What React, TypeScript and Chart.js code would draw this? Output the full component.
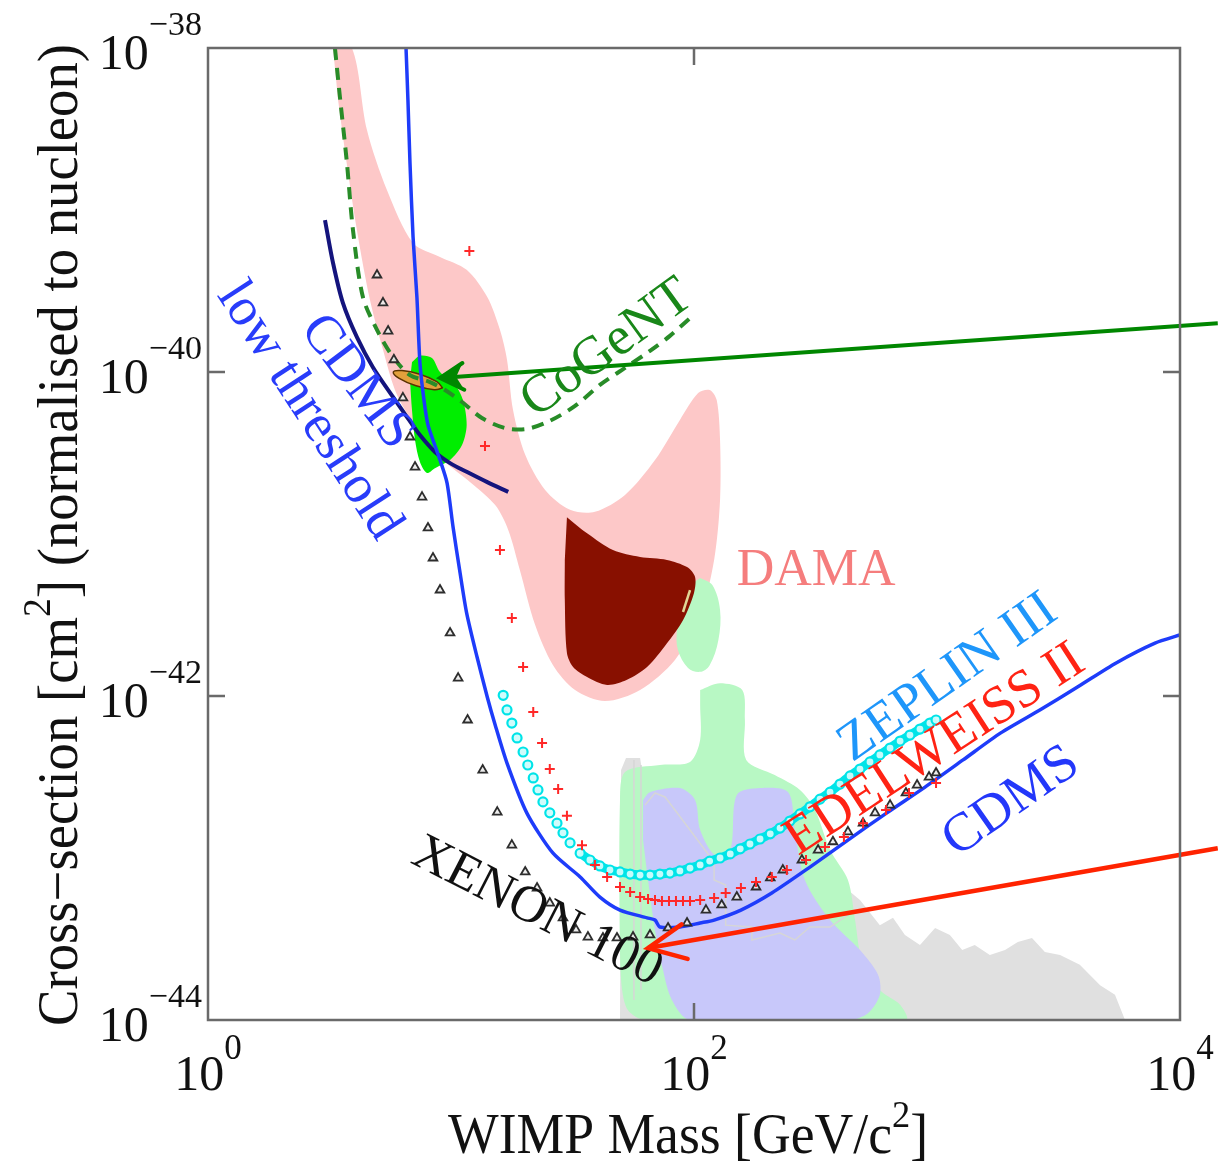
import React, { useEffect, useRef } from 'react';
import { Chart, registerables } from 'chart.js';

Chart.register(...registerables);

// ---------------- data (mass in GeV/c^2, cross-section in cm^2) ----------------
const xTickValues = [1, 100, 10000];
const xTickExponents = ['0', '2', '4'];
const yTickValues = [1e-38, 1e-40, 1e-42, 1e-44];
const yTickExponents = ['\u221238', '\u221240', '\u221242', '\u221244'];

// grey (background) region
const grayMass = [49.6, 50.1, 52.5, 60.0, 62.9, 106, 273, 482, 582, 659, 738, 851, 982, 1130, 1270, 1430, 1650, 1905, 2150, 2460, 2780, 3210, 3870, 4690, 5400, 5940];
const graySigma = [1e-44, 3.49e-43, 4.14e-43, 4.14e-43, 2.63e-43, 2.28e-43, 1.12e-43, 5.51e-44, 3.85e-44, 4.27e-44, 3.35e-44, 2.90e-44, 3.70e-44, 3.35e-44, 2.70e-44, 2.90e-44, 2.52e-44, 2.70e-44, 3.03e-44, 3.21e-44, 2.63e-44, 2.52e-44, 2.19e-44, 1.64e-44, 1.43e-44, 1e-44];

// light green regions
const greenUpperMass = [106, 119, 128, 126, 116, 106, 94.5, 85.9, 85.1, 89.3, 96.3];
const greenUpperSigma = [5.35e-42, 4.84e-42, 3.40e-42, 2.22e-42, 1.55e-42, 1.41e-42, 1.49e-42, 1.92e-42, 2.55e-42, 3.65e-42, 4.84e-42];
const greenLowerMass = [106, 128, 158, 162, 164, 215, 273, 315, 363, 430, 460, 491, 582, 705, 745, 62.9, 53.5, 50.6, 49.6, 49.6, 52.0, 72.4, 96.3, 106, 106];
const greenLowerSigma = [1.09e-42, 1.20e-42, 1.09e-42, 7.11e-43, 4.03e-43, 3.25e-43, 2.63e-43, 1.98e-43, 1.12e-43, 7.31e-44, 4.14e-44, 2.34e-44, 1.53e-44, 1.24e-44, 1e-44, 1e-44, 1.15e-44, 1.53e-44, 2.70e-44, 2.28e-43, 3.40e-43, 3.75e-43, 3.92e-43, 5.35e-43, 8.79e-43];

// lavender region
const lavenderMass = [61.7, 65.9, 87.5, 101, 106, 122, 141, 150, 187, 244, 260, 286, 363, 482, 572, 582, 520, 439, 96.3, 81.1, 74.5, 69.1, 64.7, 61.7];
const lavenderSigma = [2.28e-43, 2.55e-43, 2.70e-43, 2.28e-43, 1.49e-43, 1.04e-43, 1.12e-43, 2.45e-43, 2.70e-43, 2.55e-43, 1.49e-43, 7.31e-44, 4.14e-44, 2.70e-44, 1.90e-44, 1.43e-44, 1.10e-44, 1e-44, 1e-44, 1.33e-44, 2.04e-44, 3.60e-44, 7.31e-44, 1.29e-43];

// faint grey contour inside
const contourMass = [62.9, 69.1, 76.0, 83.5, 96.3, 111, 121, 121, 135, 135, 173, 173, 226, 260, 300, 363, 430];
const contourSigma = [2.12e-43, 2.52e-43, 2.38e-43, 1.98e-43, 1.49e-43, 1.12e-43, 9.44e-44, 7.31e-44, 6.81e-44, 3.85e-44, 3.75e-44, 3.12e-44, 3.44e-44, 3.12e-44, 3.75e-44, 3.75e-44, 4.45e-44];
const contourAMass = [56.6, 56.6];
const contourASigma = [4.03e-43, 1.33e-44];
const contourBMass = [60.5, 60.5];
const contourBSigma = [3.75e-43, 1.53e-44];

// DAMA regions
const damaMass = [3.27, 3.91, 4.51, 5.45, 6.98, 9.01, 11.6, 14.1, 15.9, 17.0, 18.0, 20.2, 24.4, 30.9, 39.1, 52.0, 69.1, 87.5, 104, 116, 124, 128, 128, 121, 106, 83.5, 60.0, 43.0, 32.4, 26.3, 22.2, 19.2, 17.2, 15.2, 12.0, 9.45, 7.82, 6.65, 5.88, 5.25, 4.64, 4.10, 3.73, 3.43];
const damaSigma = [1e-38, 1e-38, 3.12e-39, 1.33e-39, 6.25e-40, 5.13e-40, 4.27e-40, 2.90e-40, 1.82e-40, 1.19e-40, 5.82e-41, 3.08e-41, 1.87e-41, 1.41e-41, 1.37e-41, 1.74e-41, 2.86e-41, 5.06e-41, 7.41e-41, 7.74e-41, 6.71e-41, 3.80e-41, 1.62e-41, 6.92e-42, 3.16e-42, 1.67e-42, 1.09e-42, 9.31e-43, 1.09e-42, 1.55e-42, 2.74e-42, 6.00e-42, 1.06e-41, 1.51e-41, 2.09e-41, 2.78e-41, 3.80e-41, 5.43e-41, 7.74e-41, 1.37e-40, 2.78e-40, 7.53e-40, 1.90e-39, 4.77e-39];
const damaDarkMass = [30.0, 36.3, 46.4, 60.0, 77.4, 93.6, 101, 100, 90.1, 77.4, 64.1, 53.0, 43.9, 36.3, 31.8, 30.0, 29.4, 29.4];
const damaDarkSigma = [1.27e-41, 1.01e-41, 7.96e-42, 7.21e-42, 6.92e-42, 6.25e-42, 5.43e-42, 4.33e-42, 2.94e-42, 2.12e-42, 1.51e-42, 1.26e-42, 1.17e-42, 1.31e-42, 1.51e-42, 1.84e-42, 3.92e-42, 6.92e-42];
const damaSpotMass = [90.1, 96.3];
const damaSpotSigma = [3.30e-42, 4.51e-42];

// bright green region and orange ellipse
const brightMass = [6.91, 7.45, 8.35, 9.01, 10.4, 11.2, 11.6, 11.1, 9.91, 8.59, 7.96, 7.45, 7.11, 6.91, 6.78];
const brightSigma = [1.15e-40, 1.26e-40, 1.22e-40, 1.00e-40, 8.32e-41, 6.71e-41, 4.71e-41, 3.54e-41, 2.86e-41, 2.55e-41, 2.38e-41, 2.78e-41, 3.80e-41, 5.82e-41, 8.93e-41];
const ellipseMass = [9.25, 8.53, 7.18, 6.12, 5.79, 6.28, 7.45, 8.74, 9.25];
const ellipseSigma = [7.96e-41, 7.78e-41, 8.22e-41, 9.14e-41, 1.00e-40, 1.02e-40, 9.68e-41, 8.71e-41, 7.96e-41];

// CoGeNT (dashed)
const cogentMass = [3.33, 3.49, 3.73, 3.95, 4.34, 4.96, 5.77, 6.78, 8.20, 9.45, 11.1, 13.4, 16.7, 20.5, 25.5, 32.4, 41.0, 52.0, 65.9, 79.6, 96.3];
const cogentSigma = [1e-38, 4.99e-39, 1.95e-39, 7.53e-40, 2.90e-40, 1.82e-40, 1.24e-40, 9.57e-41, 8.67e-41, 7.74e-41, 6.53e-41, 5.20e-41, 4.51e-41, 4.45e-41, 4.99e-41, 6.17e-41, 8.32e-41, 1.06e-40, 1.35e-40, 1.67e-40, 2.15e-40];

// CDMS low threshold
const cdmsLowMass = [3.03, 3.27, 3.59, 4.10, 4.77, 5.77, 6.59, 7.45, 8.59, 9.91, 11.6, 14.1, 17.2];
const cdmsLowSigma = [8.67e-40, 4.71e-40, 2.67e-40, 1.64e-40, 1.07e-40, 7.01e-41, 5.27e-41, 4.08e-41, 3.21e-41, 2.74e-41, 2.42e-41, 2.09e-41, 1.82e-41];

// CDMS
const cdmsMass = [6.53, 6.65, 6.78, 6.98, 7.24, 7.45, 7.74, 8.04, 8.43, 9.01, 9.63, 10.2, 10.9, 11.6, 12.8, 14.1, 15.2, 17.0, 20.5, 26.3, 34.0, 41.0, 49.6, 64.1, 69.1, 72.4, 87.5, 106, 121, 156, 209, 300, 430, 622, 893, 1280, 1830, 2650, 3800, 5460, 7890, 10000];
const cdmsSigma = [1e-38, 4.77e-39, 1.95e-39, 6.81e-40, 2.90e-40, 1.14e-40, 6.71e-41, 4.71e-41, 3.80e-41, 2.86e-41, 2.07e-41, 1.10e-41, 5.74e-42, 3.25e-42, 1.74e-42, 9.86e-43, 6.62e-43, 3.85e-43, 1.90e-43, 1.07e-43, 7.64e-44, 5.74e-44, 4.77e-44, 4.27e-44, 4.14e-44, 3.75e-44, 3.75e-44, 3.97e-44, 4.14e-44, 4.77e-44, 6.08e-44, 8.79e-44, 1.29e-43, 1.90e-43, 2.74e-43, 4.03e-43, 5.92e-43, 8.20e-43, 1.14e-42, 1.60e-42, 2.12e-42, 2.38e-42];

// XENON100 (triangles)
const xenonMass = [4.96, 5.25, 5.51, 5.82, 6.34, 6.78, 7.11, 7.60, 8.04, 8.43, 9.01, 9.91, 10.7, 11.7, 13.5, 15.5, 17.8, 20.2, 22.6, 25.5, 28.9, 32.7, 36.6, 42.2, 48.2, 56.1, 65.9, 78.2, 93.6, 112, 130, 150, 180, 206, 232, 278, 324, 373, 430, 496, 556, 641, 745, 828, 927, 991];
const xenonSigma = [3.97e-40, 2.67e-40, 1.79e-40, 1.19e-40, 6.92e-41, 3.97e-41, 2.59e-41, 1.69e-41, 1.09e-41, 7.11e-42, 4.51e-42, 2.45e-42, 1.29e-42, 7.11e-43, 3.49e-43, 1.92e-43, 1.20e-43, 8.20e-44, 6.53e-44, 5.27e-44, 4.27e-44, 3.60e-44, 3.25e-44, 3.21e-44, 3.21e-44, 3.25e-44, 3.35e-44, 3.70e-44, 3.97e-44, 4.77e-44, 5.13e-44, 5.74e-44, 6.62e-44, 7.53e-44, 8.43e-44, 9.72e-44, 1.12e-43, 1.26e-43, 1.45e-43, 1.64e-43, 1.90e-43, 2.12e-43, 2.52e-43, 2.82e-43, 3.16e-43, 3.35e-43];

// ZEPLIN III (circles)
const zeplinMass = [16.4, 17.0, 17.8, 18.7, 19.8, 20.7, 21.8, 22.8, 23.9, 25.5, 27.3, 28.9, 30.9, 34.0, 37.3, 41.0, 45.1, 49.6, 54.6, 60.0, 65.9, 72.4, 79.6, 87.5, 96.3, 106, 116, 128, 141, 155, 170, 187, 206, 226, 248, 273, 300, 330, 363, 399, 439, 482, 530, 582, 641, 705, 774, 851, 935, 991];
const zeplinSigma = [1.01e-42, 8.20e-43, 6.81e-43, 5.51e-43, 4.51e-43, 3.75e-43, 3.12e-43, 2.63e-43, 2.22e-43, 1.90e-43, 1.64e-43, 1.43e-43, 1.24e-43, 1.07e-43, 9.72e-44, 8.93e-44, 8.43e-44, 8.20e-44, 7.96e-44, 7.85e-44, 7.85e-44, 7.96e-44, 8.07e-44, 8.32e-44, 8.67e-44, 9.06e-44, 9.57e-44, 1.00e-43, 1.06e-43, 1.14e-43, 1.22e-43, 1.31e-43, 1.41e-43, 1.53e-43, 1.69e-43, 1.87e-43, 2.07e-43, 2.31e-43, 2.55e-43, 2.86e-43, 3.21e-43, 3.54e-43, 3.92e-43, 4.33e-43, 4.77e-43, 5.27e-43, 5.74e-43, 6.25e-43, 6.81e-43, 7.11e-43];

// EDELWEISS II (crosses)
const edelMass = [11.9, 13.8, 15.9, 17.8, 19.8, 21.8, 23.7, 25.5, 27.6, 30.0, 34.6, 39.1, 43.9, 49.6, 54.6, 60.0, 64.7, 69.1, 73.8, 78.9, 84.3, 90.1, 96.3, 106, 121, 135, 156, 180, 209, 241, 289, 346, 414, 496, 617, 767, 991];
const edelSigma = [5.58e-40, 3.49e-41, 7.96e-42, 3.03e-42, 1.51e-42, 7.96e-43, 5.13e-43, 3.54e-43, 2.67e-43, 1.82e-43, 1.20e-43, 9.06e-44, 7.64e-44, 6.62e-44, 6.17e-44, 5.74e-44, 5.58e-44, 5.51e-44, 5.43e-44, 5.43e-44, 5.43e-44, 5.43e-44, 5.43e-44, 5.51e-44, 5.66e-44, 6.08e-44, 6.53e-44, 7.11e-44, 7.64e-44, 8.43e-44, 9.72e-44, 1.17e-43, 1.35e-43, 1.64e-43, 1.98e-43, 2.52e-43, 2.90e-43];

// arrows (tail first, tip last)
const greenArrowMass = [14300, 9.01];
const greenArrowSigma = [2.00e-40, 9.18e-41];
const redArrowMass = [14300, 64.7];
const redArrowSigma = [1.15e-43, 2.78e-44];

// ---------------- text annotations ----------------
const SERIF = "'Liberation Serif', 'Times New Roman', 'DejaVu Serif', serif";
const annotations = [
  { text: 'CDMS', mass: 4.10, sigma: 8.67e-41, angle: 53, size: 54, color: 'rgb(40,60,250)' },
  { text: 'low threshold', mass: 2.60, sigma: 5.74e-41, angle: 57, size: 54, color: 'rgb(40,60,250)' },
  { text: 'CoGeNT', mass: 43.9, sigma: 1.39e-40, angle: -36, size: 54, color: 'rgb(25,135,25)' },
  { text: 'DAMA', mass: 318, sigma: 5.92e-42, angle: 0, size: 52, color: 'rgb(245,125,125)' },
  { text: 'ZEPLIN III', mass: 1110, sigma: 1.29e-42, angle: -35, size: 54, color: 'rgb(30,150,250)' },
  { text: 'EDELWEISS II', mass: 982, sigma: 4.64e-43, angle: -33, size: 54, color: 'rgb(255,35,20)' },
  { text: 'CDMS', mass: 2020, sigma: 2.22e-43, angle: -35, size: 54, color: 'rgb(35,55,250)' },
  { text: 'XENON 100', mass: 22.6, sigma: 4.64e-44, angle: 27, size: 52, color: '#111111' },
];

const pts = (m: number[], s: number[]) => m.map((x, i) => ({ x, y: s[i] }));

type Part = { t: string; size: number; dy: number };

function partsWidth(ctx: any, parts: Part[]) {
  let w = 0;
  for (const p of parts) {
    ctx.font = `${p.size}px ${SERIF}`;
    w += ctx.measureText(p.t).width;
  }
  return w;
}

function drawParts(ctx: any, parts: Part[], x: number, y: number) {
  let cx = x;
  for (const p of parts) {
    ctx.font = `${p.size}px ${SERIF}`;
    ctx.fillText(p.t, cx, y + p.dy);
    cx += ctx.measureText(p.t).width;
  }
}

const overlayPlugin = {
  id: 'overlay',
  afterDatasetsDraw(chart: any) {
    const ctx = chart.ctx;
    const xs = chart.scales.x;
    const ys = chart.scales.y;
    const { left, right, top, bottom } = chart.chartArea;
    ctx.save();

    // text annotations
    for (const a of annotations) {
      const px = xs.getPixelForValue(a.mass);
      const py = ys.getPixelForValue(a.sigma);
      ctx.save();
      ctx.translate(px, py);
      ctx.rotate((a.angle * Math.PI) / 180);
      ctx.font = `${a.size}px ${SERIF}`;
      ctx.fillStyle = a.color;
      ctx.textAlign = 'center';
      ctx.textBaseline = 'middle';
      ctx.fillText(a.text, 0, 0);
      ctx.restore();
    }

    // arrow heads
    chart.data.datasets.forEach((ds: any, i: number) => {
      const head = ds.arrowHead;
      if (!head) return;
      const p = chart.getDatasetMeta(i).data;
      const tip = p[p.length - 1];
      const tail = p[p.length - 2];
      const ang = Math.atan2(tail.y - tip.y, tail.x - tip.x);
      const b1x = tip.x + head.len * Math.cos(ang + head.spread);
      const b1y = tip.y + head.len * Math.sin(ang + head.spread);
      const b2x = tip.x + head.len * Math.cos(ang - head.spread);
      const b2y = tip.y + head.len * Math.sin(ang - head.spread);
      ctx.strokeStyle = ds.borderColor;
      ctx.fillStyle = ds.borderColor;
      ctx.lineWidth = ds.borderWidth;
      ctx.lineCap = 'round';
      ctx.lineJoin = 'miter';
      if (head.fill) {
        const nx = tip.x + head.len * 0.6 * Math.cos(ang);
        const ny = tip.y + head.len * 0.6 * Math.sin(ang);
        ctx.beginPath();
        ctx.moveTo(b1x, b1y);
        ctx.lineTo(tip.x, tip.y);
        ctx.lineTo(b2x, b2y);
        ctx.lineTo(nx, ny);
        ctx.closePath();
        ctx.fill();
      }
      ctx.beginPath();
      ctx.moveTo(b1x, b1y);
      ctx.lineTo(tip.x, tip.y);
      ctx.lineTo(b2x, b2y);
      ctx.stroke();
    });

    // frame and inward ticks
    ctx.strokeStyle = '#6a6a6a';
    ctx.lineWidth = 2.5;
    ctx.lineCap = 'butt';
    ctx.strokeRect(left, top, right - left, bottom - top);
    ctx.beginPath();
    xTickValues.forEach((v) => {
      const x = xs.getPixelForValue(v);
      if (x > left + 2 && x < right - 2) {
        ctx.moveTo(x, bottom);
        ctx.lineTo(x, bottom - 17);
        ctx.moveTo(x, top);
        ctx.lineTo(x, top + 17);
      }
    });
    yTickValues.forEach((v) => {
      const y = ys.getPixelForValue(v);
      if (y > top + 2 && y < bottom - 2) {
        ctx.moveTo(left, y);
        ctx.lineTo(left + 17, y);
        ctx.moveTo(right, y);
        ctx.lineTo(right - 17, y);
      }
    });
    ctx.stroke();

    // tick labels
    ctx.fillStyle = '#111';
    ctx.textAlign = 'left';
    ctx.textBaseline = 'alphabetic';
    xTickValues.forEach((v, i) => {
      const x = xs.getPixelForValue(v);
      const parts = [
        { t: '10', size: 50, dy: 0 },
        { t: xTickExponents[i], size: 35, dy: -31 },
      ];
      const w = partsWidth(ctx, parts);
      drawParts(ctx, parts, x - w / 2, bottom + 70);
    });
    yTickValues.forEach((v, i) => {
      const y = ys.getPixelForValue(v);
      const parts = [
        { t: '10', size: 50, dy: 0 },
        { t: yTickExponents[i], size: 34, dy: -34 },
      ];
      const w = partsWidth(ctx, parts);
      drawParts(ctx, parts, left - 6 - w, y + 21);
    });

    // x title
    {
      const parts = [
        { t: 'WIMP Mass [GeV/c', size: 56, dy: 0 },
        { t: '2', size: 38, dy: -26 },
        { t: ']', size: 56, dy: 0 },
      ];
      const w = partsWidth(ctx, parts);
      const k = 480 / w;
      ctx.save();
      ctx.translate(688, 1153);
      ctx.scale(k, 1);
      drawParts(ctx, parts, -w / 2, 0);
      ctx.restore();
    }
    // y title
    {
      const parts = [
        { t: 'Cross\u2212section [cm', size: 58, dy: 0 },
        { t: '2', size: 40, dy: -27 },
        { t: '] (normalised to nucleon)', size: 58, dy: 0 },
      ];
      const w = partsWidth(ctx, parts);
      const k = 982 / w;
      ctx.save();
      ctx.translate(77, 535);
      ctx.rotate(-Math.PI / 2);
      ctx.scale(k, 1);
      drawParts(ctx, parts, -w / 2, 0);
      ctx.restore();
    }
    ctx.restore();
  },
};

const fillShape = (data: any[], color: string, order: number, tension = 0.3) => ({
  data,
  fill: 'shape',
  backgroundColor: color,
  borderColor: color,
  borderWidth: 0,
  pointRadius: 0,
  tension,
  order,
});

export default function App() {
  const ref = useRef<HTMLCanvasElement>(null);
  useEffect(() => {
    document.body.style.margin = '0';
    const canvas = ref.current;
    if (!canvas) return;
    const datasets: any[] = [
      { label: 'grey', ...fillShape(pts(grayMass, graySigma), 'rgb(224,224,224)', 30, 0) },
      { label: 'green lower', ...fillShape(pts(greenLowerMass, greenLowerSigma), 'rgb(184,248,196)', 29, 0.3) },
      { label: 'lavender', ...fillShape(pts(lavenderMass, lavenderSigma), 'rgb(200,200,250)', 28, 0.3) },
      { label: 'contour', data: pts(contourMass, contourSigma), borderColor: 'rgb(214,214,214)', borderWidth: 1.5, pointRadius: 0, tension: 0, fill: false, order: 27 },
      { label: 'contourA', data: pts(contourAMass, contourASigma), borderColor: 'rgb(214,214,214)', borderWidth: 1.5, pointRadius: 0, fill: false, order: 27 },
      { label: 'contourB', data: pts(contourBMass, contourBSigma), borderColor: 'rgb(214,214,214)', borderWidth: 1.5, pointRadius: 0, fill: false, order: 27 },
      { label: 'DAMA', ...fillShape(pts(damaMass, damaSigma), 'rgb(253,200,200)', 26, 0.3) },
      { label: 'green upper', ...fillShape(pts(greenUpperMass, greenUpperSigma), 'rgb(184,248,196)', 25, 0.35) },
      { label: 'DAMA dark', ...fillShape(pts(damaDarkMass, damaDarkSigma), 'rgb(136,16,0)', 24, 0.3) },
      { label: 'DAMA spot', data: pts(damaSpotMass, damaSpotSigma), borderColor: 'rgb(225,215,150)', borderWidth: 2.5, pointRadius: 0, fill: false, order: 23 },
      { label: 'bright', ...fillShape(pts(brightMass, brightSigma), 'rgb(0,238,0)', 22, 0.3) },
      {
        label: 'ellipse', data: pts(ellipseMass, ellipseSigma), fill: 'shape', backgroundColor: 'rgb(226,160,60)',
        borderColor: 'rgb(90,50,0)', borderWidth: 1.5, pointRadius: 0, tension: 0.45, order: 21,
      },
      {
        label: 'CoGeNT', data: pts(cogentMass, cogentSigma), borderColor: 'rgb(40,140,40)', borderWidth: 4,
        borderDash: [12, 8], pointRadius: 0, tension: 0.3, fill: false, order: 20,
      },
      {
        label: 'CDMS low threshold', data: pts(cdmsLowMass, cdmsLowSigma), borderColor: 'rgb(20,20,125)', borderWidth: 4,
        pointRadius: 0, tension: 0.3, fill: false, order: 19,
      },
      {
        label: 'CDMS', data: pts(cdmsMass, cdmsSigma), borderColor: 'rgb(30,60,250)', borderWidth: 3.5,
        pointRadius: 0, tension: 0.25, fill: false, order: 18,
      },
      {
        label: 'XENON100', data: pts(xenonMass, xenonSigma), showLine: false, pointStyle: 'triangle', pointRadius: 5,
        borderColor: 'rgb(45,45,45)', backgroundColor: 'rgba(235,235,235,0.9)', pointBorderWidth: 1.8, order: 17,
      },
      {
        label: 'ZEPLIN band', data: pts(zeplinMass.slice(13), zeplinSigma.slice(13)), borderColor: 'rgb(0,228,232)',
        borderWidth: 9, pointRadius: 0, tension: 0.3, fill: false, order: 16,
      },
      {
        label: 'ZEPLIN III', data: pts(zeplinMass, zeplinSigma), showLine: false, pointStyle: 'circle', pointRadius: 4.5,
        borderColor: 'rgb(0,228,232)', backgroundColor: 'rgba(205,252,252,0.95)', pointBorderWidth: 2.2, order: 15,
      },
      {
        label: 'EDELWEISS II', data: pts(edelMass, edelSigma), showLine: false, pointStyle: 'cross', pointRadius: 5,
        borderColor: 'rgb(255,40,40)', pointBorderWidth: 2, order: 14,
      },
      {
        label: 'green arrow', data: pts(greenArrowMass, greenArrowSigma), borderColor: 'rgb(0,135,0)', borderWidth: 4,
        pointRadius: 0, fill: false, clip: false, order: 2, arrowHead: { len: 27, spread: 0.52, fill: true },
      },
      {
        label: 'red arrow', data: pts(redArrowMass, redArrowSigma), borderColor: 'rgb(255,35,0)', borderWidth: 4.5,
        pointRadius: 0, fill: false, clip: false, order: 1, arrowHead: { len: 41, spread: 0.44, fill: false },
      },
    ];
    const chart = new Chart(canvas, {
      type: 'line',
      data: { datasets },
      options: {
        animation: false,
        responsive: false,
        devicePixelRatio: 1,
        events: [],
        layout: { padding: { left: 208, top: 48, right: 38, bottom: 145 } },
        plugins: { legend: { display: false }, tooltip: { enabled: false } },
        scales: {
          x: { type: 'logarithmic', min: 1, max: 10000, display: false },
          y: { type: 'logarithmic', min: 1e-44, max: 1e-38, display: false },
        },
      } as any,
      plugins: [overlayPlugin as any],
    });
    return () => chart.destroy();
  }, []);
  return (
    <div style={{ width: 1218, height: 1165, background: '#ffffff' }}>
      <canvas ref={ref} width={1218} height={1165} style={{ display: 'block', width: 1218, height: 1165 }} />
    </div>
  );
}
